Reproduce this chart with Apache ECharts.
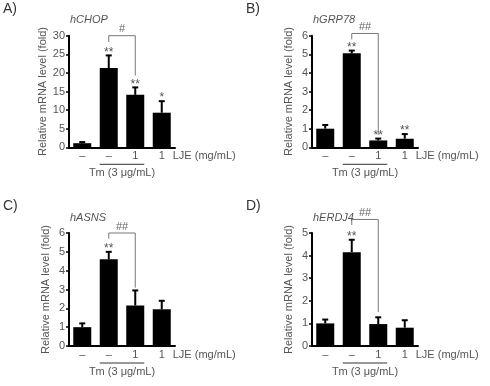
<!DOCTYPE html>
<html>
<head>
<meta charset="utf-8">
<script src="https://cdn.jsdelivr.net/npm/echarts@6/dist/echarts.min.js"></script>
<style>
  html, body { margin: 0; padding: 0; background: #fff; }
  #chart { width: 490px; height: 386px; }
</style>
</head>
<body>
<div id="chart"></div>
<script>
  // LJE dose row under each bar
  var categories = ['–', '–', '1', '1']
  var panelLabels = ['A)', 'B)', 'C)', 'D)']
  var genes = ['hCHOP', 'hGRP78', 'hASNS', 'hERDJ4']

  // mean / upper SD / significance vs control, per gene
  var chopMean = [1.1, 21.3, 14.1, 9.3]
  var chopErr = [0.3, 3.4, 2.0, 3.1]
  var chopStars = ['', '**', '**', '*']

  var grp78Mean = [1.0, 5.05, 0.37, 0.46]
  var grp78Err = [0.2, 0.15, 0.1, 0.25]
  var grp78Stars = ['', '**', '**', '**']

  var asnsMean = [1.0, 4.6, 2.15, 1.95]
  var asnsErr = [0.2, 0.4, 0.8, 0.45]
  var asnsStars = ['', '**', '', '']

  var erdj4Mean = [1.0, 4.15, 0.97, 0.81]
  var erdj4Err = [0.17, 0.55, 0.3, 0.33]
  var erdj4Stars = ['', '**', '', '']

  // y axis ranges
  var yMax = [30, 6, 6, 5]
  var yStep = [5, 1, 1, 1]

  // Tm vs Tm+LJE bracket: [top, left leg end, right leg end]
  var chopBracket = [30, 28.3, 19.3]
  var grp78Bracket = [6.12, 5.8, 0.68]
  var asnsBracket = [6, 5.7, 3.1]
  var erdj4Bracket = [5.6, 5.35, 1.5]
  var bracketMarks = ['#', '##', '##', '##']

  var means = [chopMean, grp78Mean, asnsMean, erdj4Mean]
  var errs = [chopErr, grp78Err, asnsErr, erdj4Err]
  var stars = [chopStars, grp78Stars, asnsStars, erdj4Stars]
  var brackets = [chopBracket, grp78Bracket, asnsBracket, erdj4Bracket]

  var FONT = 'Arial, "Liberation Sans", sans-serif'
  var TXT = '#555'

  var grids = [
    { left: 69, top: 35.7, width: 106, height: 111.6 },
    { left: 312, top: 35.7, width: 106, height: 111.6 },
    { left: 69, top: 233, width: 106, height: 113 },
    { left: 312, top: 233, width: 106, height: 113 }
  ]

  var xAxes = [], yAxes = [], series = [], graphic = []

  function errorItem(p) {
    return function (params, api) {
      var i = params.dataIndex
      var base = api.coord([i, means[p][i]])
      var top = api.coord([i, means[p][i] + errs[p][i]])
      return {
        type: 'group',
        children: [
          { type: 'line', shape: { x1: base[0], y1: base[1], x2: top[0], y2: top[1] },
            style: { stroke: '#000', lineWidth: 2 } },
          { type: 'line', shape: { x1: top[0] - 3, y1: top[1], x2: top[0] + 3, y2: top[1] },
            style: { stroke: '#000', lineWidth: 2 } },
          { type: 'text', style: { text: stars[p][i], x: top[0], y: top[1] - 3,
            align: 'center', verticalAlign: 'middle', fill: TXT, font: '12px ' + FONT } }
        ]
      }
    }
  }

  function annotateItem(p) {
    return function (params, api) {
      var b = brackets[p]
      var topL = api.coord([1, b[0]])
      var topR = api.coord([2, b[0]])
      var legL = api.coord([1, b[1]])
      var legR = api.coord([2, b[2]])
      var base1 = api.coord([1, 0])
      var base2 = api.coord([2, 0])
      var base3 = api.coord([3, 0])
      var half = api.size([1, 0])[0] * 0.34
      return {
        type: 'group',
        children: [
          { type: 'polyline', shape: { points: [legL, topL, topR, legR] },
            style: { stroke: '#777', lineWidth: 1, fill: null } },
          { type: 'text', style: { text: bracketMarks[p], x: (topL[0] + topR[0]) / 2, y: topL[1] - 1,
            align: 'center', verticalAlign: 'bottom', fill: '#666', font: '11px ' + FONT } },
          { type: 'line', shape: { x1: base1[0] - half, y1: base1[1] + 17, x2: base2[0] + half, y2: base2[1] + 17 },
            style: { stroke: '#333', lineWidth: 1 } },
          { type: 'text', style: { text: 'Tm (3 μg/mL)', x: (base1[0] + base2[0]) / 2, y: base1[1] + 20,
            align: 'center', verticalAlign: 'top', fill: TXT, font: '11px ' + FONT } },
          { type: 'text', style: { text: 'LJE (mg/mL)', x: base3[0] + 11, y: base3[1] + 9,
            align: 'left', verticalAlign: 'middle', fill: TXT, font: '11px ' + FONT } }
        ]
      }
    }
  }

  for (var p = 0; p < 4; p++) {
    xAxes.push({
      type: 'category', gridIndex: p, data: categories,
      axisLine: { lineStyle: { color: '#000', width: 2 } },
      axisTick: { show: false },
      axisLabel: { color: TXT, fontSize: 11, fontFamily: FONT, margin: 3 }
    })
    yAxes.push({
      type: 'value', gridIndex: p, min: 0, max: yMax[p], interval: yStep[p],
      name: 'Relative mRNA level (fold)', nameLocation: 'middle', nameGap: 18,
      nameTextStyle: { color: TXT, fontSize: 11, fontFamily: FONT },
      axisLine: { show: true, lineStyle: { color: '#000', width: 2 } },
      axisTick: { show: true, length: 3, lineStyle: { color: '#000', width: 1.5 } },
      axisLabel: { color: TXT, fontSize: 11, fontFamily: FONT, margin: 4 },
      splitLine: { show: false }
    })
    series.push({
      type: 'bar', xAxisIndex: p, yAxisIndex: p, data: means[p], barWidth: 18,
      itemStyle: { color: '#000' }, silent: true
    })
    series.push({
      type: 'custom', xAxisIndex: p, yAxisIndex: p, clip: false, z: 3,
      data: means[p].map(function (v, i) { return [i, v] }),
      renderItem: errorItem(p), silent: true
    })
    series.push({
      type: 'custom', xAxisIndex: p, yAxisIndex: p, clip: false, z: 3,
      data: [[1, 0]], renderItem: annotateItem(p), silent: true
    })
    var g = grids[p]
    graphic.push({
      type: 'text', left: g.left - 66, top: g.top - 34,
      style: { text: panelLabels[p], fill: '#333', font: '14px ' + FONT }
    })
    graphic.push({
      type: 'text', left: g.left + 1, top: g.top - 21,
      style: { text: genes[p], fill: TXT, font: 'italic 11px ' + FONT }
    })
  }

  var chart = echarts.init(document.getElementById('chart'))
  chart.setOption({
    animation: false,
    backgroundColor: '#fff',
    grid: grids,
    xAxis: xAxes,
    yAxis: yAxes,
    series: series,
    graphic: graphic
  })
</script>
</body>
</html>
